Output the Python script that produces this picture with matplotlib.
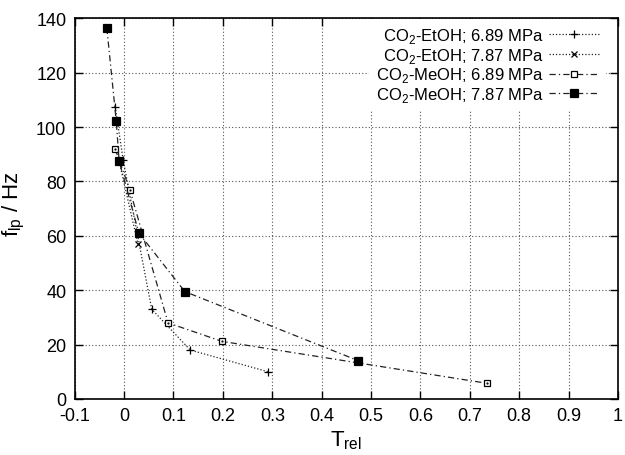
import matplotlib
matplotlib.use("Agg")
import matplotlib.pyplot as plt

plt.rcParams['font.family'] = ['Liberation Sans', 'DejaVu Sans']

# data
etoh_689_x = [-0.018, -0.002, 0.056, 0.134, 0.292]
etoh_689_y = [107.5, 88.0, 33.0, 18.0, 10.0]
etoh_787_x = [-0.010, 0.028]
etoh_787_y = [87.4, 57.0]
meoh_689_x = [-0.018, 0.012, 0.089, 0.198, 0.734]
meoh_689_y = [91.9, 76.7, 28.0, 21.2, 5.8]
meoh_787_x = [-0.035, -0.016, -0.010, 0.030, 0.123, 0.474]
meoh_787_y = [136.5, 102.4, 87.4, 61.0, 39.5, 14.1]
labels = ['CO$_\\mathregular{2}$-EtOH; 6.89 MPa', 'CO$_\\mathregular{2}$-EtOH; 7.87 MPa',
          'CO$_\\mathregular{2}$-MeOH; 6.89 MPa', 'CO$_\\mathregular{2}$-MeOH; 7.87 MPa']
xticks = [-0.1, 0, 0.1, 0.2, 0.3, 0.4, 0.5, 0.6, 0.7, 0.8, 0.9, 1]
xticklabels = ['-0.1', '0', '0.1', '0.2', '0.3', '0.4', '0.5', '0.6', '0.7', '0.8', '0.9', '1']
yticks = [0, 20, 40, 60, 80, 100, 120, 140]

fig = plt.figure(figsize=(6.25, 4.56), dpi=100)
ax = fig.add_axes([74.7/625, 1-400/456, (618-74.7)/625, (400-19.3)/456])

dotted = (0, (1, 1.6))
dashdot = (0, (5, 2.5, 1, 2.5))
col = '#222222'

ax.plot(etoh_689_x, etoh_689_y, linestyle=dotted, color=col, lw=0.9,
        marker='+', ms=6, mew=0.9, mec='black', label=labels[0])
ax.plot(etoh_787_x, etoh_787_y, linestyle=dotted, color=col, lw=0.9,
        marker='x', ms=4.8, mew=0.9, mec='black', label=labels[1], markevery=[1])
ax.plot(meoh_689_x, meoh_689_y, linestyle=dashdot, color=col, lw=0.9,
        marker='s', ms=5, mew=0.9, mec='black', mfc='white', label=labels[2])
ax.plot(meoh_689_x, meoh_689_y, linestyle='none', marker='.', ms=1.2, color='black')
ax.plot(meoh_787_x, meoh_787_y, linestyle=dashdot, color=col, lw=0.9,
        marker='s', ms=5.8, mew=0.9, mec='black', mfc='black', label=labels[3])

ax.set_xlim(-0.1, 1)
ax.set_ylim(0, 140)
ax.set_xticks(xticks)
ax.set_xticklabels(xticklabels)
ax.set_yticks(yticks)
ax.tick_params(direction='in', top=True, right=True, length=6, width=1,
               labelsize=13, pad=6)
for s in ax.spines.values():
    s.set_linewidth(1.2)
ax.grid(True, linestyle=(0, (1, 2)), color='#555555', lw=0.8)

ax.set_xlabel('T$_\\mathregular{rel}$', fontsize=16, labelpad=3)
ax.set_ylabel('f$_\\mathregular{lp}$ / Hz', fontsize=16)
ax.yaxis.set_label_coords(-0.088, 0.515)

leg = ax.legend(loc='upper right', bbox_to_anchor=(0.977, 0.998), frameon=True,
                fancybox=False, edgecolor='none', facecolor='white', framealpha=1,
                markerfirst=False, handlelength=3.0, fontsize=12, borderaxespad=0,
                borderpad=0.4, labelspacing=0.05, handletextpad=0.3)
for c in leg._legend_handle_box.get_children():
    c.align = 'right'

fig.savefig('out.png', dpi=100)
